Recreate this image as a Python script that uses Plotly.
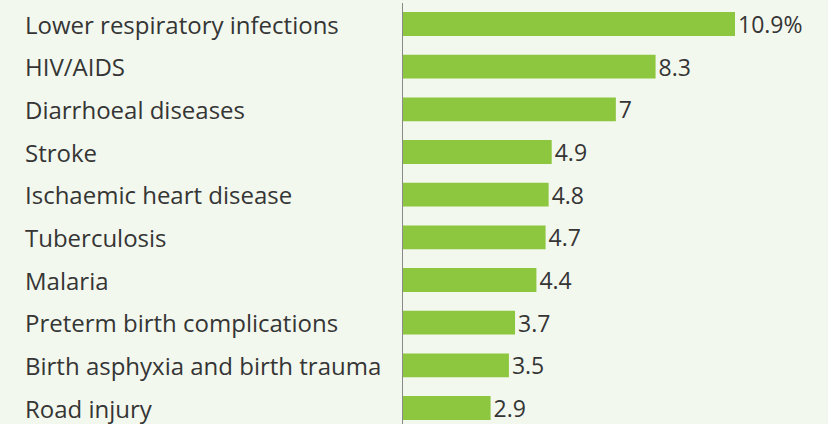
import plotly.graph_objects as go

categories = [
    "Lower respiratory infections",
    "HIV/AIDS",
    "Diarrhoeal diseases",
    "Stroke",
    "Ischaemic heart disease",
    "Tuberculosis",
    "Malaria",
    "Preterm birth complications",
    "Birth asphyxia and birth trauma",
    "Road injury",
]
values = [10.9, 8.3, 7, 4.9, 4.8, 4.7, 4.4, 3.7, 3.5, 2.9]
value_labels = [f"{v:g}" + ("%" if i == 0 else "") for i, v in enumerate(values)]

BG = "#f3f8ee"
BAR = "#8dc63f"
TXT = "#353535"
FONT = "Open Sans"
FS = 24

fig = go.Figure(
    go.Bar(
        x=values,
        y=categories,
        orientation="h",
        marker=dict(color=BAR, line=dict(width=0)),
        text=value_labels,
        textposition="outside",
        textfont=dict(family=FONT, size=FS - 1, color=TXT),
        constraintext="none",
        cliponaxis=False,
    )
)

for c in categories:
    fig.add_annotation(
        x=-379 / 426, xref="paper", y=c, yref="y",
        text=c, showarrow=False, xanchor="left", yanchor="middle",
        font=dict(family=FONT, size=FS, color=TXT),
    )

fig.add_shape(
    type="line", xref="x", yref="paper", x0=0, x1=0, y0=0, y1=1 - 3 / 424,
    line=dict(color="#8a8a8a", width=2),
)

fig.update_layout(
    width=828, height=424,
    margin=dict(l=402, r=0, t=0, b=0),
    paper_bgcolor=BG, plot_bgcolor=BG,
    bargap=0.44,
    showlegend=False,
    xaxis=dict(range=[0, 426 / 30.55], visible=False, showgrid=False, zeroline=False),
    yaxis=dict(
        categoryorder="array", categoryarray=categories,
        range=[9.375, -0.5625], showticklabels=False, showgrid=False,
        zeroline=False, showline=False, ticks="",
    ),
)

fig.write_html(
    "out.html",
    config={"displayModeBar": False},
    post_script="document.body.style.margin='0';document.body.style.overflow='hidden';",
)
